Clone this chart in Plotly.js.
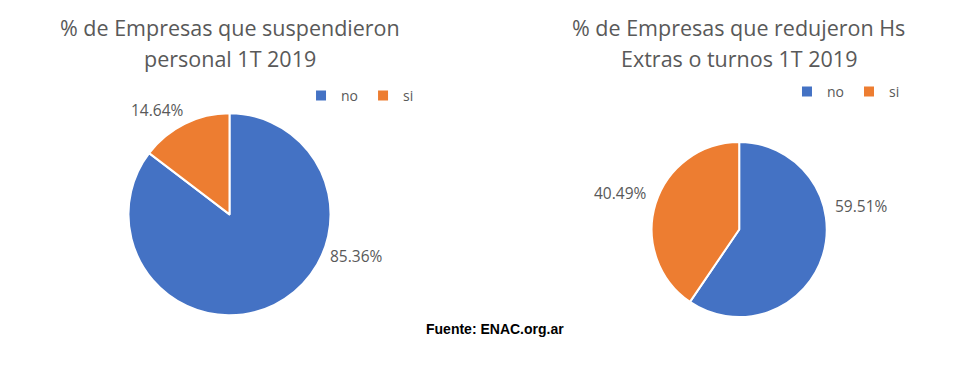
<!DOCTYPE html>
<html>
<head>
<meta charset="utf-8">
<script src="https://cdn.plot.ly/plotly-3.0.1.min.js"></script>
<style>
html,body{margin:0;padding:0;background:#fff;}
#wrap{position:relative;width:977px;height:373px;}
.layer{position:absolute;left:0;top:0;width:977px;height:373px;}
</style>
</head>
<body>
<div id="wrap">
  <div id="chartLeft" class="layer"></div>
  <div id="chartRight" class="layer"></div>
</div>
<script>
const categories = ['no', 'si'];
const suspendieronValues = [85.36, 14.64];
const redujeronValues = [59.51, 40.49];
const titleLeft = ['% de Empresas que suspendieron', 'personal 1T 2019'];
const titleRight = ['% de Empresas que redujeron Hs', 'Extras o turnos 1T 2019'];
const sourceText = 'Fuente: ENAC.org.ar';

const colors = ['#4472C4', '#ED7D31'];
const grey = '#595959';
const font = 'Open Sans, Noto Sans, sans-serif';
const fmt = v => v.toFixed(2) + '%';

function buildChart(divId, values, titleLines, cfg, withSource, bg) {
  const trace = {
    type: 'pie', labels: categories, values: values,
    sort: false, direction: 'clockwise', rotation: 0,
    marker: {colors: colors, line: {color: '#ffffff', width: 2}},
    textinfo: 'none', hoverinfo: 'label+percent',
    domain: cfg.domain, showlegend: true
  };
  const annotations = [];
  values.forEach((v, j) => {
    annotations.push({
      text: fmt(v), x: cfg.labelPos[j][0], y: cfg.labelPos[j][1],
      xref: 'paper', yref: 'paper', xanchor: 'center', yanchor: 'middle',
      showarrow: false, font: {family: font, size: 15.5, color: grey}
    });
  });
  titleLines.forEach((t, j) => {
    annotations.push({
      text: t, x: cfg.titleX, y: cfg.titleY[j], xref: 'paper', yref: 'paper',
      xanchor: 'center', yanchor: 'middle', showarrow: false,
      font: {family: font, size: 21.5, color: grey}
    });
  });
  if (withSource) {
    annotations.push({
      text: '<b>' + sourceText + '</b>', x: 0.5067, y: 1 - 329 / 373,
      xref: 'paper', yref: 'paper', xanchor: 'center', yanchor: 'middle',
      showarrow: false, font: {family: 'Liberation Sans, Arial, sans-serif', size: 14, color: '#000000'}
    });
  }
  const layout = {
    width: 977, height: 373,
    margin: {l: 0, r: 0, t: 0, b: 0},
    paper_bgcolor: bg, plot_bgcolor: bg,
    showlegend: true,
    legend: {
      orientation: 'h', xanchor: 'center', yanchor: 'middle',
      x: cfg.legendXY[0], y: cfg.legendXY[1],
      font: {family: font, size: 14, color: grey}, itemwidth: 30,
      bgcolor: 'rgba(0,0,0,0)', traceorder: 'normal'
    },
    annotations: annotations
  };
  Plotly.newPlot(divId, [trace], layout, {displayModeBar: false, staticPlot: true});
}

buildChart('chartLeft', suspendieronValues, titleLeft, {
  domain: {x: [0.1315, 0.3383], y: [0.1528, 0.6979]},
  labelPos: [[0.3644, 0.3145], [0.1612, 0.7051]],
  titleX: 0.2354, titleY: [0.9276, 0.8445],
  legendXY: [0.3685, 1 - 96 / 373]
}, true, '#ffffff');

buildChart('chartRight', redujeronValues, titleRight, {
  domain: {x: [0.6670, 0.8462], y: [0.1493, 0.6201]},
  labelPos: [[0.8813, 0.4477], [0.6346, 0.4826]],
  titleX: 0.7559, titleY: [0.9276, 0.8445],
  legendXY: [0.8659, 1 - 92 / 373]
}, false, 'rgba(0,0,0,0)');
</script>
</body>
</html>
